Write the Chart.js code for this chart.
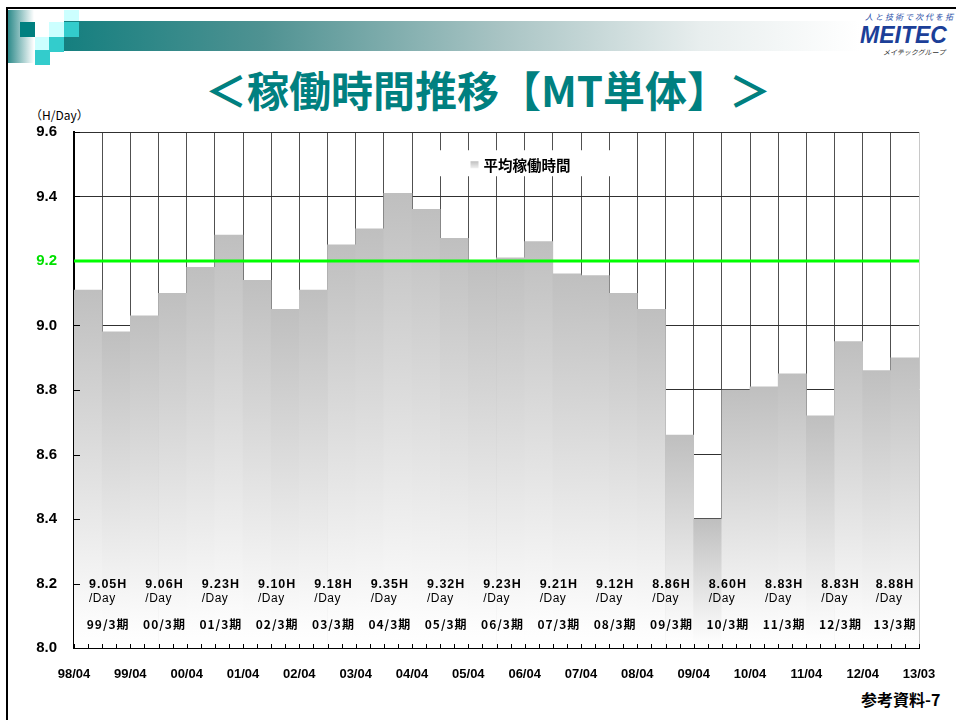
<!DOCTYPE html>
<html lang="ja">
<head>
<meta charset="utf-8">
<title>稼働時間推移</title>
<script src="https://cdn.jsdelivr.net/npm/chart.js@4.4.1/dist/chart.umd.min.js"></script>
<style>
  html, body { margin: 0; padding: 0; background: #fff; overflow: hidden; }
  #page { position: relative; width: 956px; height: 720px; overflow: hidden; background: #fff; }
  #page div { position: absolute; }
  canvas { position: absolute; left: 0; top: 0; }
  .sq { width: 15px; height: 15px; }
  .jp { font-family: "Noto Sans CJK JP", "Noto Sans", sans-serif; white-space: nowrap; }
</style>
</head>
<body>
<div id="page">
  <!-- frame -->
  <div style="left:6px;top:7px;width:950px;height:2px;background:#000"></div>
  <div style="left:6px;top:7px;width:2px;height:713px;background:#000"></div>
  <!-- header decoration -->
  <div style="left:8px;top:10px;width:26px;height:53px;background:linear-gradient(to right,#2e8b8b,#ffffff)"></div>
  <div style="left:64px;top:21px;width:796px;height:30px;background:linear-gradient(to right,#157f7f 0%,#4f9292 25%,#a9c4c4 55%,#e8eeee 80%,#ffffff 100%)"></div>
  <div style="left:34px;top:10px;width:30px;height:41px;background:#fff"></div>
  <div class="sq" style="left:64px;top:10px;height:11px;background:#ccffff"></div>
  <div class="sq" style="left:20px;top:22px;background:#008080"></div>
  <div class="sq" style="left:49px;top:22px;background:#ccffff"></div>
  <div class="sq" style="left:64px;top:22px;background:#33cccc"></div>
  <div class="sq" style="left:35px;top:37px;background:#ccffff"></div>
  <div class="sq" style="left:49px;top:37px;background:#33cccc"></div>
  <div class="sq" style="left:35px;top:50px;background:#33cccc"></div>
  <!-- logo -->
  <div class="jp" style="left:865px;top:11px;font-size:8px;color:#2a4fa8;font-style:italic;letter-spacing:2px">人と技術で次代を拓</div>
  <div style="left:860px;top:22px;font-family:'Liberation Sans',Arial,sans-serif;font-weight:bold;font-style:italic;font-size:23px;color:#1c3f98;white-space:nowrap">MEITEC</div>
  <div class="jp" style="left:883px;top:47px;font-size:7px;color:#333;font-style:italic">メイテックグループ</div>
  <!-- title -->
  <div class="jp" style="left:205px;top:64px;font-size:42px;font-weight:bold;color:#008080;line-height:50px">＜稼働時間推移【MT単体】＞</div>
  <div class="jp" style="left:30px;top:107px;font-size:12px;color:#000;line-height:16px">（H/Day）</div>
  <div class="jp" style="left:861px;top:689px;font-size:16px;font-weight:bold;color:#000;line-height:20px">参考資料-7</div>
  <canvas id="grafico" width="956" height="720"></canvas>
</div>
<script>
//DATOS: horas de trabajo promedio por semestre
const horas = [9.11, 8.98, 9.03, 9.10, 9.18, 9.28, 9.14, 9.05, 9.11, 9.25,
               9.30, 9.41, 9.36, 9.27, 9.20, 9.21, 9.26, 9.16, 9.155, 9.10,
               9.05, 8.66, 8.40, 8.80, 8.81, 8.85, 8.72, 8.95, 8.86, 8.90];
const etiquetasX = ["98/04", "99/04", "00/04", "01/04", "02/04", "03/04", "04/04", "05/04",
                    "06/04", "07/04", "08/04", "09/04", "10/04", "11/04", "12/04", "13/03"];
const periodos = ["99/3期", "00/3期", "01/3期", "02/3期", "03/3期", "04/3期", "05/3期", "06/3期",
                  "07/3期", "08/3期", "09/3期", "10/3期", "11/3期", "12/3期", "13/3期"];
const promedioPeriodo = [9.05, 9.06, 9.23, 9.10, 9.18, 9.35, 9.32, 9.23,
                         9.21, 9.12, 8.86, 8.60, 8.83, 8.83, 8.88];
const ticksY = [8.0, 8.2, 8.4, 8.6, 8.8, 9.0, 9.2, 9.4, 9.6];
const meta = 9.2;
const nombreSerie = "平均稼働時間";

const fuenteNum = "'Liberation Sans', Arial, sans-serif";
const fuenteJp = "'Noto Sans CJK JP', 'Noto Sans', sans-serif";

//GRADIENTE GRIS PARA CADA BARRA
function degradado(ctx) {
  const chart = ctx.chart;
  const area = chart.chartArea;
  if (!area || ctx.type !== "data") return "#c0c0c0";
  const top = chart.scales.y.getPixelForValue(ctx.raw.y);
  const g = chart.ctx.createLinearGradient(0, top, 0, area.bottom);
  g.addColorStop(0, "#bfbfbf");
  g.addColorStop(0.95, "#fdfdfd");
  g.addColorStop(1, "#ffffff");
  return g;
}

//DIBUJA LINEA VERDE, TEXTOS Y LEYENDA
const extras = {
  id: "extras",
  afterDatasetsDraw(chart) {
    const { ctx, chartArea: a, scales: { x, y } } = chart;
    ctx.save();

    // pequeñas marcas dentro del eje
    ctx.strokeStyle = "#000";
    ctx.lineWidth = 1;
    for (let k = 0; k <= horas.length * 2; k++) {
      const px = Math.round(x.getPixelForValue(k / 2)) + 0.5;
      ctx.beginPath();
      ctx.moveTo(px, a.bottom);
      ctx.lineTo(px, a.bottom - 4);
      ctx.stroke();
    }
    ticksY.forEach((v) => {
      const py = Math.round(y.getPixelForValue(v)) + 0.5;
      ctx.beginPath();
      ctx.moveTo(a.left, py);
      ctx.lineTo(a.left + 6, py);
      ctx.stroke();
    });

    // linea de referencia
    const yMeta = y.getPixelForValue(meta);
    ctx.strokeStyle = "#00ff00";
    ctx.lineWidth = 3;
    ctx.beginPath();
    ctx.moveTo(a.left, yMeta);
    ctx.lineTo(a.right, yMeta);
    ctx.stroke();

    // etiquetas por periodo
    ctx.fillStyle = "#000";
    ctx.textBaseline = "middle";
    periodos.forEach((p, i) => {
      const cx = Math.min(x.getPixelForValue(i * 2 + 1) + 6, a.right - 24);
      ctx.font = "bold 12.5px " + fuenteNum;
      ctx.letterSpacing = "1px";
      const txt = promedioPeriodo[i].toFixed(2) + "H";
      const w = ctx.measureText(txt).width;
      ctx.textAlign = "left";
      ctx.fillText(txt, cx - w / 2, y.getPixelForValue(8.2) + 1);
      ctx.font = "12px " + fuenteNum;
      ctx.letterSpacing = "0.5px";
      ctx.fillText("/Day", cx - w / 2, y.getPixelForValue(8.2) + 15);
      ctx.font = "bold 12px " + fuenteJp;
      ctx.letterSpacing = "1px";
      ctx.textAlign = "center";
      ctx.fillText(p, cx, y.getPixelForValue(8.2) + 41);
    });
    ctx.letterSpacing = "0px";

    // leyenda
    const lx = x.getPixelForValue(15);
    const ly = y.getPixelForValue(9.5);
    ctx.fillStyle = "#fff";
    ctx.fillRect(lx - 66, ly - 14, 182, 26);
    const g = ctx.createLinearGradient(0, ly - 4, 0, ly + 4);
    g.addColorStop(0, "#b8b8b8");
    g.addColorStop(1, "#f0f0f0");
    ctx.fillStyle = g;
    ctx.fillRect(lx - 26, ly - 3, 8, 7);
    ctx.fillStyle = "#000";
    ctx.font = "bold 14.5px " + fuenteJp;
    ctx.textAlign = "left";
    ctx.fillText(nombreSerie, lx - 13, ly + 1);

    ctx.restore();
  },
};

const grafico = document.getElementById("grafico");
new Chart(grafico, {
  type: "bar",
  data: {
    datasets: [{
      label: nombreSerie,
      data: horas.map((v, i) => ({ x: i + 0.5, y: v })),
      backgroundColor: degradado,
      borderWidth: 0,
      barPercentage: 1,
      categoryPercentage: 1,
    }],
  },
  options: {
    responsive: false,
    animation: false,
    devicePixelRatio: 1,
    layout: { padding: { left: 0, right: 37, top: 132, bottom: 0 } },
    plugins: {
      legend: { display: false },
      tooltip: { enabled: false },
    },
    scales: {
      x: {
        type: "linear",
        min: 0,
        max: horas.length,
        offset: false,
        afterFit: (s) => { s.height = 72; },
        afterBuildTicks: (s) => { s.ticks = horas.map((_, i) => ({ value: i })).concat([{ value: horas.length }]); },
        ticks: {
          autoSkip: false,
          maxRotation: 0,
          padding: 19,
          color: "#000",
          font: { family: fuenteNum, size: 13, weight: "bold" },
          callback: (v) => (v % 2 === 0 || v === horas.length ? etiquetasX[Math.ceil(v / 2)] : ""),
        },
        grid: {
          offset: false,
          drawTicks: false,
          color: (c) => (c.tick && c.tick.value === horas.length ? "#c8c8c8" : "#505050"),
          lineWidth: 1,
        },
        border: { color: "#000", width: 2 },
      },
      y: {
        min: 8.0,
        max: 9.6,
        afterFit: (s) => { s.width = 74; },
        afterBuildTicks: (s) => { s.ticks = ticksY.map((v) => ({ value: v })); },
        ticks: {
          padding: 17,
          color: (c) => (Math.abs(c.tick.value - meta) < 0.001 ? "#00e000" : "#000"),
          font: { family: fuenteNum, size: 15, weight: "bold" },
          callback: (v) => v.toFixed(1),
        },
        grid: { drawTicks: false, color: "#303030", lineWidth: 1 },
        border: { color: "#000", width: 2 },
      },
    },
  },
  plugins: [extras],
});
</script>
</body>
</html>
